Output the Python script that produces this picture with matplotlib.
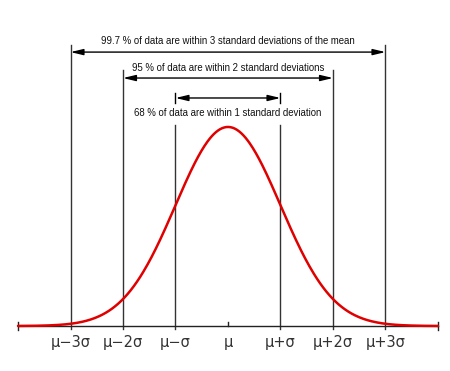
import numpy as np
import matplotlib
matplotlib.use("Agg")
import matplotlib.pyplot as plt

# Data
mu = 0.0
sigma = 1.0
tick_offsets = [-3, -2, -1, 0, 1, 2, 3]
tick_labels = ["μ−3σ", "μ−2σ", "μ−σ", "μ", "μ+σ", "μ+2σ", "μ+3σ"]
band_k = [3, 2, 1]
band_texts = ["99.7 % of data are within 3 standard deviations of the mean",
              "95 % of data are within 2 standard deviations",
              "68 % of data are within 1 standard deviation"]

fig = plt.figure(figsize=(4.5, 3.71), dpi=100)
ax = fig.add_axes([0, 0, 1, 1])
ax.set_xlim(-4.343, 4.229)
ax.set_ylim(-0.0902, 0.6534)
ax.axis("off")

# curve (normal density)
x = np.linspace(mu - 4 * sigma, mu + 4 * sigma, 400)
y = np.exp(-0.5 * ((x - mu) / sigma) ** 2) / (sigma * np.sqrt(2 * np.pi))
ax.plot(x, y, color="#e00000", lw=1.8, zorder=3, solid_capstyle="round")

# axis line
ax.plot([mu - 4 * sigma, mu + 4 * sigma], [0, 0], color="#222222", lw=1.0, zorder=2)
for e in (-4, 4):
    ax.plot([mu + e * sigma] * 2, [-0.008, 0.008], color="#222222", lw=1.0)
ax.plot([mu, mu], [0, 0.008], color="#222222", lw=1.0)

# vertical lines
tops = {3: 0.563, 2: 0.513, 1: 0.403}
arrow_y = {3: 0.549, 2: 0.497, 1: 0.457}
text_y = {3: 0.571, 2: 0.517, 1: 0.427}
for k in band_k:
    for s in (-1, 1):
        ax.plot([mu + s * k * sigma] * 2, [-0.006, tops[k]], color="#333333", lw=1.0, zorder=1)

# arrows and texts
for k, txt in zip(band_k, band_texts):
    ax.annotate("", xy=(mu - k * sigma, arrow_y[k]), xytext=(mu + k * sigma, arrow_y[k]),
                arrowprops=dict(arrowstyle="<|-|>,head_length=0.75,head_width=0.18",
                                color="black", lw=1.0, shrinkA=0, shrinkB=0))
    ax.text(mu, text_y[k], txt, ha="center", va="center", fontsize=6.9,
            family="Liberation Sans", color="#111111")
# small end bars of the 1-sigma arrow
for s in (-1, 1):
    ax.plot([mu + s * sigma] * 2, [arrow_y[1] - 0.01, arrow_y[1] + 0.01], color="black", lw=1.0)

# tick labels
for off, lab in zip(tick_offsets, tick_labels):
    ax.text(mu + off * sigma, -0.034, lab, ha="center", va="center", fontsize=10.5,
            family="DejaVu Sans", color="#333333")

fig.savefig("out.png", dpi=100, facecolor="white")
